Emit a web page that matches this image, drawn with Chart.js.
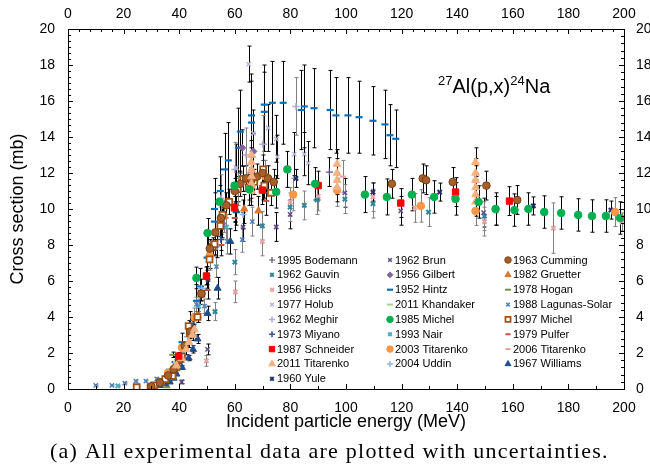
<!DOCTYPE html>
<html>
<head>
<meta charset="utf-8">
<script src="https://cdn.jsdelivr.net/npm/chart.js@4.4.0/dist/chart.umd.min.js"></script>
<style>
html, body { margin: 0; padding: 0; background: #fff; overflow: hidden; }
#wrap { width: 650px; height: 470px; overflow: hidden; }
canvas { display: block; }
</style>
</head>
<body>
<div id="wrap"><canvas id="chart" width="670" height="470"></canvas></div>
<script>
// each point: [energy (MeV), cross section (mb), uncertainty (mb)]
const bodemann1995 = [[50,6.3,0.5],[60,10.2,0.7],[70,11.3,0.8],[94,12.05,0.8]]
const brun1962 = [[40.9,0.39,0.1],[50.2,2.2,0.3],[63,9.0,0.8],[74.9,9.0,0.8],[79.9,9.7,0.8],[99.6,10.9,0.8],[119.7,9.9,0.8],[149.5,9.8,0.8],[154,9.9,0.8]]
const cumming1963 = [[30,0.15,0.03],[33,0.35,0.05],[36,0.75,0.1],[38,1.1,0.1],[40,1.6,0.15],[42,2.4,0.2],[44,3.2,0.3],[48,5.3,0.4],[51,7.8,0.5],[53,8.7,0.6],[55,9.5,0.6],[57,10.2,0.7],[60,11.0,0.7],[62,11.4,0.7],[64,11.7,0.7],[66,11.6,0.7],[68,11.8,0.7],[70,12.0,0.7],[72,11.7,0.7],[74,11.5,0.7],[116.5,11.4,0.8],[127.6,11.7,0.8],[128.8,11.6,0.8],[138.4,11.5,0.8],[150.5,11.3,0.8],[161.6,10.5,0.8]]
const gauvin1962 = [[52.9,4.3,0.5],[60,7.05,0.7],[69.9,9.06,0.8],[79.9,10.1,0.8],[85,10.2,0.8],[89.6,10.5,0.8],[99.6,10.55,0.8],[109.7,10.3,0.8],[129.7,9.83,0.8],[149.8,9.6,0.8]]
const gilbert1956 = [[55.5,9.2,0.8],[62.7,13.4,1.0],[66.7,13.2,1.0]]
const gruetter1982 = [[46.6,4.1,0.4],[63.4,10.0,0.8],[68.5,9.9,0.8]]
const hicks1956 = [[49.8,1.56,0.3],[60.2,5.4,0.6],[69.9,8.2,0.8],[79.9,10.4,0.8],[90,10.7,0.8],[109.7,10.67,0.8],[124.7,10.06,0.8],[149.8,9.3,0.8],[174.6,8.94,1.4],[199.3,9.28,0.5]]
const hintz1952 = [[38.5,1.5,0.3],[41,2.6,0.5],[44,3.6,0.7],[46.2,4.9,0.9],[47.5,5.7,1.0],[50,7.3,1.3],[52.7,9.3,1.6],[52.7,10.0,1.7],[54.8,11.0,1.9],[56.3,12.2,2.0],[57.7,12.7,2.1],[61.3,13.4,2.2],[62,14.3,2.3],[66,14.8,2.3],[66,15.2,2.3],[70.6,15.4,2.2],[70.6,15.8,2.2],[73.5,15.9,2.3],[77.4,15.9,2.3],[83.9,15.5,2.2],[85,15.7,2.3],[88.5,15.6,2.2],[94.3,15.5,2.2],[96.4,15.2,2.1],[100.7,15.2,2.1],[104.7,15.1,2.0],[109.7,14.9,1.9],[114,14.7,1.9],[115.8,14.1,1.7],[117.9,13.9,1.6]]
const hogan1978 = [[35.5,0.1,0.02],[37.7,1.9,0.15]]
const holub1977 = [[60.5,12.3,1.3],[65,18.05,1.0],[66.7,14.2,1.3],[72,14.5,1.3],[74.9,13.9,1.3],[75.3,12.9,1.2],[81.4,13.05,1.2],[85,13.05,1.2],[86.4,12.55,1.2]]
const khandaker2011 = [[30,0.12,0.02],[33,0.4,0.05],[36,0.9,0.08],[39,1.5,0.12]]
const lagunas1988 = [[10,0.2,0.03],[15.8,0.2,0.03],[20.4,0.33,0.04],[24.4,0.44,0.05],[28,0.44,0.05],[31.9,0.56,0.06],[36,1.0,0.1],[40,1.8,0.2],[46.2,4.7,0.4],[49.1,4.6,0.4],[53.4,6.8,0.6],[57.3,8.2,0.7],[62.7,8.3,0.7],[66.3,9.3,0.8]]
const meghir1962 = [[55,10.6,1.3],[60,12.2,1.5],[64,13.0,1.5],[70,13.6,1.6],[82,15.7,1.6]]
const michel1985 = [[46.2,6.17,0.6],[50.2,8.67,0.8],[54.5,10.4,0.9],[59.9,11.3,0.9],[65.2,11.1,0.9],[74.9,10.95,0.9],[78.9,12.2,1.0],[88.9,11.4,0.9],[106.8,10.8,1.0],[114.7,10.67,1.0],[123.7,10.8,0.9],[131.7,10.67,0.9],[139.4,10.56,0.9],[147.7,10.39,0.9],[153.8,10.0,0.9],[160.6,9.94,0.9],[165.6,10.0,0.9],[171.3,9.83,0.9],[177.4,9.78,0.9],[183.5,9.67,0.9],[188.5,9.61,0.9],[193.5,9.61,0.9],[198.6,9.5,0.9]]
const michel1997 = [[24.7,0.1,0.02],[29.7,0.1,0.02],[31,0.2,0.03],[33.5,0.4,0.05],[35,0.55,0.06],[37.6,0.72,0.08],[39,1.2,0.1],[41,1.8,0.15],[43.4,3.5,0.3],[43.8,3.1,0.3],[46.6,4.0,0.3],[48,5.3,0.4],[50.9,7.2,0.5],[52,7.9,0.5],[52.7,8.05,0.6],[54.8,9.06,0.6],[55.6,9.67,0.6],[58,10.4,0.7],[61,11.1,0.7],[63,11.67,0.7],[65,11.2,0.7],[67,11.5,0.7],[70.2,12.2,0.8],[70.6,11.3,0.7],[73,10.9,0.7]]
const miyano1973 = [[40,1.6,0.15],[45,3.8,0.3],[50,6.1,0.5],[55,8.3,0.6],[60,10.0,0.7]]
const nair1993 = [[17.9,0.17,0.03],[41.5,2.0,0.2],[47,4.6,0.4],[57,9.0,0.7]]
const pulfer1979 = [[45,3.2,0.3],[50.2,5.5,0.5],[55.2,8.0,0.6],[60,9.5,0.7],[71.3,10.45,0.8]]
const schneider1987 = [[39.8,1.83,0.2],[49.8,6.28,0.5],[59.9,10.06,0.8],[69.9,11.05,0.8],[90,11.3,0.8],[119.7,10.33,0.8],[139.4,10.94,0.8],[158.8,10.44,0.8]]
const titarenko2003 = [[36,0.9,0.15],[41,2.3,0.3],[45.5,4.0,0.5],[51,7.4,0.8],[56,9.6,0.9],[61,11.1,0.9],[66,11.3,0.9],[71,11.8,0.9],[81,10.8,0.9],[96.8,11.05,0.9],[126.9,10.17,0.9],[146.6,9.89,0.8],[196.8,9.83,0.8]]
const titarenko2006 = [[66,12.0,0.9],[98.9,11.8,0.9],[146.6,11.6,0.9]]
const titarenko2011 = [[39,1.3,0.2],[40.9,1.7,0.2],[42.5,2.2,0.3],[43.5,2.6,0.3],[44.8,3.0,0.3],[45.5,3.3,0.3],[66,11.0,0.8],[66,11.4,0.8],[66,11.8,0.8],[66,12.2,0.8],[66,12.6,0.8],[66,13.0,0.8],[96.8,11.2,0.8],[96.8,11.6,0.8],[96.8,12.0,0.8],[96.8,12.5,0.8],[146.6,10.4,0.8],[146.6,10.8,0.8],[146.6,11.2,0.8],[146.6,11.6,0.8],[146.6,12.0,0.8],[146.6,12.6,0.8]]
const uddin2004 = [[38,1.2,0.1],[43,2.9,0.3],[48,5.6,0.5],[53.6,7.9,0.6],[63,9.7,0.8]]
const williams1967 = [[30,0.06,0.02],[33,0.2,0.03],[35,0.3,0.04],[36.6,0.39,0.05],[38,0.6,0.06],[39,0.83,0.08],[41,1.2,0.1],[43.4,1.72,0.15],[45,2.2,0.2],[46.6,2.78,0.25],[50.2,4.2,0.4],[53.8,5.6,0.6],[58.4,8.2,0.7],[60.6,9.9,0.8]]
const yule1960 = [[82,11.7,0.5],[109.7,10.94,0.5],[133.7,10.94,0.5],[167.4,10.17,0.5],[195.3,9.94,0.5]]

const seriesNames = ['1995 Bodemann','1962 Brun','1963 Cumming','1962 Gauvin','1956 Gilbert','1982 Gruetter',
  '1956 Hicks','1952 Hintz','1978 Hogan','1977 Holub','2011 Khandaker','1988 Lagunas-Solar',
  '1962 Meghir','1985 Michel','1997 Michel','1973 Miyano','1993 Nair','1979 Pulfer',
  '1987 Schneider','2003 Titarenko','2006 Titarenko','2011 Titarenko','2004 Uddin','1967 Williams','1960 Yule']
const seriesData = [bodemann1995, brun1962, cumming1963, gauvin1962, gilbert1956, gruetter1982,
  hicks1956, hintz1952, hogan1978, holub1977, khandaker2011, lagunas1988,
  meghir1962, michel1985, michel1997, miyano1973, nair1993, pulfer1979,
  schneider1987, titarenko2003, titarenko2006, titarenko2011, uddin2004, williams1967, yule1960]

// marker look per series: [pointStyle, radius, fill, stroke, lineWidth, error bar colour, draw order]
const looks = [
  ['cross', 3.5, '#604A7B', '#604A7B', 1.2, '#000', 5],
  ['crossRot', 3, '#5F4B8B', '#5F4B8B', 1.5, '#000', 5],
  ['circle', 3.8, '#A5602A', '#7A3E10', 1, '#000', 3],
  ['crossRot', 3, '#31859C', '#31859C', 2, '#808080', 5],
  ['rectRot', 3.5, '#8064A2', '#8064A2', 1, '#000', 5],
  ['triangle', 4.2, '#D9792E', '#D9792E', 1, '#000', 4],
  ['crossRot', 3, '#E6A5A5', '#E6A5A5', 2, '#808080', 5],
  ['line', 3.5, '#0070C0', '#0070C0', 2.2, '#000', 10],
  ['line', 3.5, '#77933C', '#77933C', 2, '#000', 5],
  ['crossRot', 3, '#B3B8DA', '#B3B8DA', 1.5, '#000', 9],
  ['line', 3.5, '#A9D18E', '#A9D18E', 2, '#000', 5],
  ['crossRot', 3, '#4F81BD', '#4F81BD', 1.5, '#808080', 5],
  ['cross', 3.5, '#B7A8D0', '#B7A8D0', 1.5, '#808080', 9],
  ['circle', 3.8, '#00B050', '#00B050', 1, '#000', 1],
  ['rect', 4.2, '#FFFFFF', '#9E5418', 1.8, '#000', 3],
  ['cross', 3.5, '#2F5597', '#2F5597', 1.5, '#000', 5],
  ['crossRot', 3, '#4BACC6', '#4BACC6', 2, '#808080', 5],
  ['line', 3, '#C0504D', '#C0504D', 2, '#000', 5],
  ['rect', 4.5, '#FF0000', '#FF0000', 1, '#000', 1],
  ['circle', 3.8, '#F79646', '#F79646', 1, '#808080', 4],
  ['line', 3, '#E6A0A0', '#E6A0A0', 2, '#808080', 5],
  ['triangle', 4.5, '#F4B183', '#F4B183', 1, '#000', 2],
  ['cross', 3.5, '#8DB4E2', '#8DB4E2', 1.5, '#000', 5],
  ['triangle', 4, '#1F4E8C', '#1F4E8C', 1, '#000', 4],
  ['crossRot', 3, '#1F2F6B', '#1F2F6B', 2, '#000', 4]
]

const datasets = seriesNames.map((name, i) => {
  const l = looks[i]
  return {
    label: name,
    data: seriesData[i].map(p => ({ x: p[0], y: p[1], e: p[2] })),
    pointStyle: l[0],
    pointRadius: l[1],
    pointHoverRadius: l[1],
    pointBackgroundColor: l[2],
    pointBorderColor: l[3],
    pointBorderWidth: l[4],
    errColor: l[5],
    order: l[6],
    showLine: false
  }
})

Chart.defaults.font.family = "'Liberation Sans', Arial, sans-serif"
Chart.defaults.color = '#000'

// vertical uncertainty bars with small caps
const errorBars = {
  id: 'errorBars',
  beforeDatasetsDraw(chart) {
    const { ctx, chartArea: a, scales: { x, y } } = chart
    ctx.save()
    ctx.beginPath()
    ctx.rect(a.left, a.top, a.right - a.left, a.bottom - a.top)
    ctx.clip()
    ctx.lineWidth = 1
    chart.data.datasets.forEach(ds => {
      ctx.strokeStyle = ds.errColor
      ds.data.forEach(p => {
        const px = Math.round(x.getPixelForValue(p.x)) + 0.5
        const top = y.getPixelForValue(p.y + p.e)
        const bot = y.getPixelForValue(p.y - p.e)
        ctx.beginPath()
        ctx.moveTo(px, top); ctx.lineTo(px, bot)
        ctx.moveTo(px - 2, top); ctx.lineTo(px + 2, top)
        ctx.moveTo(px - 2, bot); ctx.lineTo(px + 2, bot)
        ctx.stroke()
      })
    })
    ctx.restore()
  }
}

// inward tick marks, legend block, reaction label and caption
const extras = {
  id: 'extras',
  afterDraw(chart) {
    const { ctx, chartArea: a, scales: { x, y } } = chart
    ctx.save()
    ctx.strokeStyle = '#000'
    ctx.lineWidth = 1
    ctx.beginPath()
    for (let v = 0; v <= 200; v += 10) {
      const px = Math.round(x.getPixelForValue(v)) + 0.5
      const len = v % 20 === 0 ? 5 : 3
      ctx.moveTo(px, a.bottom); ctx.lineTo(px, a.bottom - len)
    }
    for (let v = 0; v <= 200; v += 4) {
      const px = Math.round(x.getPixelForValue(v)) + 0.5
      const len = v % 20 === 0 ? 5 : 3
      ctx.moveTo(px, a.top); ctx.lineTo(px, a.top + len)
    }
    for (let k = 0; k <= 60; k++) {
      const py = Math.round(y.getPixelForValue(k / 3)) + 0.5
      const len = k % 6 === 0 ? 5 : 3
      ctx.moveTo(a.left, py); ctx.lineTo(a.left + len, py)
    }
    for (let k = 0; k <= 50; k++) {
      const py = Math.round(y.getPixelForValue(k * 0.4)) + 0.5
      const len = k % 5 === 0 ? 5 : 3
      ctx.moveTo(a.right, py); ctx.lineTo(a.right - len, py)
    }
    ctx.stroke()

    // legend, three columns
    const colX = [272, 390, 508]
    ctx.font = "11px 'Liberation Sans', Arial, sans-serif"
    ctx.textBaseline = 'middle'
    ctx.textAlign = 'left'
    chart.data.datasets.forEach((ds, i) => {
      const cx = colX[i % 3]
      const cy = 260 + Math.floor(i / 3) * 14.85
      ctx.fillStyle = ds.pointBackgroundColor
      ctx.strokeStyle = ds.pointBorderColor
      ctx.lineWidth = ds.pointBorderWidth
      Chart.helpers.drawPoint(ctx, {
        pointStyle: ds.pointStyle, radius: ds.pointRadius * 0.85,
        rotation: 0, borderWidth: ds.pointBorderWidth
      }, cx, cy)
      ctx.fillStyle = '#000'
      ctx.fillText(ds.label, cx + 5, cy + 0.5)
    })

    // reaction label
    ctx.fillStyle = '#000'
    ctx.textBaseline = 'alphabetic'
    let tx = 438
    const base = 93
    const parts = [['27', 13, -8], ['Al(p,x)', 20, 0], ['24', 13, -8], ['Na', 20, 0]]
    parts.forEach(p => {
      ctx.font = p[1] + "px 'Liberation Sans', Arial, sans-serif"
      ctx.fillText(p[0], tx, base + p[2])
      tx += ctx.measureText(p[0]).width
    })

    // caption
    const cap = '(a) All experimental data are plotted with uncertainties.'
    ctx.font = "22px 'Liberation Serif', 'Times New Roman', serif"
    const w = ctx.measureText(cap).width
    const extra = Math.max(0, (559 - w) / cap.length)
    try { ctx.letterSpacing = extra.toFixed(2) + 'px' } catch (err) {}
    ctx.textAlign = 'left'
    ctx.textBaseline = 'middle'
    ctx.fillText(cap, 50, 452)
    ctx.restore()
  }
}

const axisBase = {
  type: 'linear',
  grid: { display: false },
  border: { display: true, color: '#000', width: 1 }
}

new Chart(document.getElementById('chart'), {
  type: 'scatter',
  data: { datasets },
  options: {
    responsive: false,
    animation: false,
    devicePixelRatio: 1,
    layout: { padding: 0 },
    plugins: { legend: { display: false }, tooltip: { enabled: false } },
    scales: {
      x: {
        ...axisBase, position: 'bottom', min: 0, max: 200,
        ticks: { stepSize: 20, padding: 3, font: { size: 14 }, maxRotation: 0 },
        title: { display: true, text: 'Incident particle energy (MeV)', font: { size: 18 }, padding: { top: 0, bottom: 37 } },
        afterFit(s) { s.height = 81 }
      },
      x2: {
        ...axisBase, position: 'top', min: 0, max: 200,
        ticks: { stepSize: 20, padding: -2, font: { size: 14 }, maxRotation: 0 },
        afterFit(s) { s.height = 29 }
      },
      y: {
        ...axisBase, position: 'left', min: 0, max: 20,
        ticks: { stepSize: 2, padding: 5, font: { size: 14 } },
        title: { display: true, text: 'Cross section (mb)', font: { size: 18 }, padding: { top: 7, bottom: 0 } },
        afterFit(s) { s.width = 68 }
      },
      y2: {
        ...axisBase, position: 'right', min: 0, max: 20,
        ticks: { stepSize: 2, padding: 4, font: { size: 14 } },
        afterFit(s) { s.width = 46 }
      }
    }
  },
  plugins: [errorBars, extras]
})
</script>
</body>
</html>
